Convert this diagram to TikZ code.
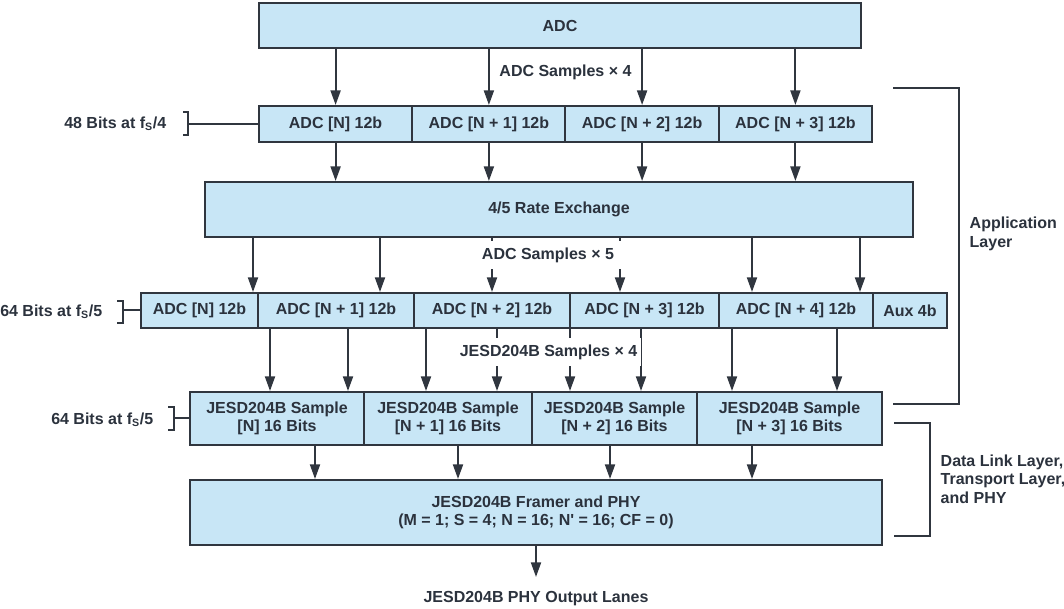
\documentclass[tikz,border=0pt]{standalone}
\usepackage{fontspec}
\setmainfont{Liberation Sans}
\usetikzlibrary{arrows.meta}
\definecolor{boxblue}{HTML}{C8E6F6}
\definecolor{linegray}{HTML}{30363F}
\definecolor{textgray}{HTML}{2B323D}

\begin{document}
\begin{tikzpicture}[x=0.75pt,y=-0.75pt,
  font=\fontsize{12}{14}\selectfont\bfseries,
  every node/.style={text=textgray},
  box/.style 2 args={draw=linegray,fill=boxblue,line width=1.5pt,inner sep=0pt,align=center,
    minimum width=#1*0.75pt,minimum height=#2*0.75pt},
  arr/.style={draw=linegray,line width=1.5pt,-{Triangle[length=11pt,width=7.5pt]}},
  bracket/.style={draw=linegray,line width=1.5pt},
  samplelabel/.style={fill=white,inner xsep=3pt,inner ysep=5pt}]
\useasboundingbox (0,0) rectangle (1064,609);
%ADC block at the top
\coordinate (centerADC) at (560,25.5);
\node (adc) [box={602}{45}] at (centerADC) {ADC};
%First row: 48 bits
\coordinate (center10) at (335.6,124);
\coordinate (center11) at (488.9,124);
\coordinate (center12) at (642.1,124);
\coordinate (center13) at (795.4,124);
\node (r1n0) [box={153.25}{36}] at (center10) {ADC [N] 12b};
\node (r1n1) [box={153.25}{36}] at (center11) {ADC [N + 1] 12b};
\node (r1n2) [box={153.25}{36}] at (center12) {ADC [N + 2] 12b};
\node (r1n3) [box={153.25}{36}] at (center13) {ADC [N + 3] 12b};
%Rate exchange
\coordinate (centerRate) at (559,209.5);
\node (rate) [box={708}{55}] at (centerRate) {4/5 Rate Exchange};
%Second row: 64 bits
\coordinate (center20) at (199.5,310.5);
\coordinate (center21) at (336,310.5);
\coordinate (center22) at (492,310.5);
\coordinate (center23) at (644.5,310.5);
\coordinate (center24) at (796,310.5);
\coordinate (center25) at (910,310.5);
\node (r2n0) [box={117}{35}] at (center20) {ADC [N] 12b};
\node (r2n1) [box={156}{35}] at (center21) {ADC [N + 1] 12b};
\node (r2n2) [box={156}{35}] at (center22) {ADC [N + 2] 12b};
\node (r2n3) [box={149}{35}] at (center23) {ADC [N + 3] 12b};
\node (r2n4) [box={154}{35}] at (center24) {ADC [N + 4] 12b};
\node (r2n5) [box={74}{35}] at (center25) {Aux 4b};
%JESD204B samples
\coordinate (centerJ0) at (277,418.5);
\coordinate (centerJ1) at (448,418.5);
\coordinate (centerJ2) at (614.5,418.5);
\coordinate (centerJ3) at (789.5,418.5);
\node (j0) [box={174}{53}] at (centerJ0) {JESD204B Sample\\{}[N] 16 Bits};
\node (j1) [box={168}{53}] at (centerJ1) {JESD204B Sample\\{}[N + 1] 16 Bits};
\node (j2) [box={165}{53}] at (centerJ2) {JESD204B Sample\\{}[N + 2] 16 Bits};
\node (j3) [box={185}{53}] at (centerJ3) {JESD204B Sample\\{}[N + 3] 16 Bits};
%Framer
\coordinate (centerFramer) at (536,512.5);
\node (framer) [box={692}{65}] at (centerFramer) {JESD204B Framer and PHY\\(M = 1; S = 4; N = 16; N\textquotesingle{} = 16; CF = 0)};
%Arrows ADC -> first row -> rate exchange
\foreach \i in {0,...,3} {
  \draw[arr] (adc.south -| r1n\i) -- (r1n\i.north);
  \draw[arr] (r1n\i.south) -- (rate.north -| r1n\i);
}
%Arrows rate exchange -> second row
\coordinate (p0) at (253,0);
\coordinate (p1) at (380,0);
\coordinate (p2) at (492,0);
\coordinate (p3) at (620,0);
\coordinate (p4) at (752,0);
\coordinate (p5) at (860,0);
\draw[arr] (rate.south -| p0) -- (r2n0.north -| p0);
\draw[arr] (rate.south -| p1) -- (r2n1.north -| p1);
\draw[arr] (rate.south -| p2) -- (r2n2.north -| p2);
\draw[arr] (rate.south -| p3) -- (r2n3.north -| p3);
\draw[arr] (rate.south -| p4) -- (r2n4.north -| p4);
\draw[arr] (rate.south -| p5) -- (r2n4.north -| p5);
%Arrows second row -> JESD204B samples
\coordinate (q0) at (270,0);
\coordinate (q1) at (348,0);
\coordinate (q2) at (426,0);
\coordinate (q3) at (497,0);
\coordinate (q4) at (570,0);
\coordinate (q5) at (641,0);
\coordinate (q6) at (732,0);
\coordinate (q7) at (837,0);
\draw[arr] (r2n1.south -| q0) -- (j0.north -| q0);
\draw[arr] (r2n1.south -| q1) -- (j0.north -| q1);
\draw[arr] (r2n2.south -| q2) -- (j1.north -| q2);
\draw[arr] (r2n2.south -| q3) -- (j1.north -| q3);
\draw[arr] (r2n3.south -| q4) -- (j2.north -| q4);
\draw[arr] (r2n3.south -| q5) -- (j2.north -| q5);
\draw[arr] (r2n4.south -| q6) -- (j3.north -| q6);
\draw[arr] (r2n4.south -| q7) -- (j3.north -| q7);
%Arrows JESD204B samples -> framer
\coordinate (s0) at (315,0);
\coordinate (s1) at (458,0);
\coordinate (s2) at (610,0);
\coordinate (s3) at (752,0);
\draw[arr] (j0.south -| s0) -- (framer.north -| s0);
\draw[arr] (j1.south -| s1) -- (framer.north -| s1);
\draw[arr] (j2.south -| s2) -- (framer.north -| s2);
\draw[arr] (j3.south -| s3) -- (framer.north -| s3);
%Output lanes
\coordinate (lanesEnd) at (536,577);
\draw[arr] (framer.south) -- (lanesEnd);
\node (lanes) at (536,599) {JESD204B PHY Output Lanes};
%Sample count labels
\node (samples4) [fill=white,inner sep=2pt] at (565.5,72) {ADC Samples × 4};
\node (samples5) [samplelabel,inner xsep=6.5pt] at (548,255) {ADC Samples × 5};
\node (samplesJ) [samplelabel] at (548.5,352) {JESD204B Samples × 4};
%Bit rate labels on the left
\node (bits48) [anchor=east] at (171,124) {48 Bits at f\textsubscript{S}/4};
\draw[bracket] (183,112) -- (188,112) -- (188,135) -- (183,135);
\coordinate (tick48) at (188,124);
\draw[bracket] (tick48) -- (r1n0.west);
\node (bits64a) [anchor=east] at (107,312) {64 Bits at f\textsubscript{S}/5};
\draw[bracket] (117,301) -- (123,301) -- (123,323) -- (117,323);
\coordinate (tick64a) at (123,310.5);
\draw[bracket] (tick64a) -- (r2n0.west);
\node (bits64b) [anchor=east] at (158,420) {64 Bits at f\textsubscript{S}/5};
\draw[bracket] (168,407) -- (174,407) -- (174,430) -- (168,430);
\coordinate (tick64b) at (174,418.5);
\draw[bracket] (tick64b) -- (j0.west);
%Layer brackets on the right
\draw[bracket] (893,88) -- (959,88) -- (959,404) -- (893,404);
\node (appLayer) [anchor=west,align=left] at (965,234) {Application\\Layer};
\draw[bracket] (894,423) -- (930,423) -- (930,536) -- (894,536);
\node (linkLayer) [anchor=west,align=left] at (936,479) {Data Link Layer,\\Transport Layer,\\and PHY};
\end{tikzpicture}
\end{document}
